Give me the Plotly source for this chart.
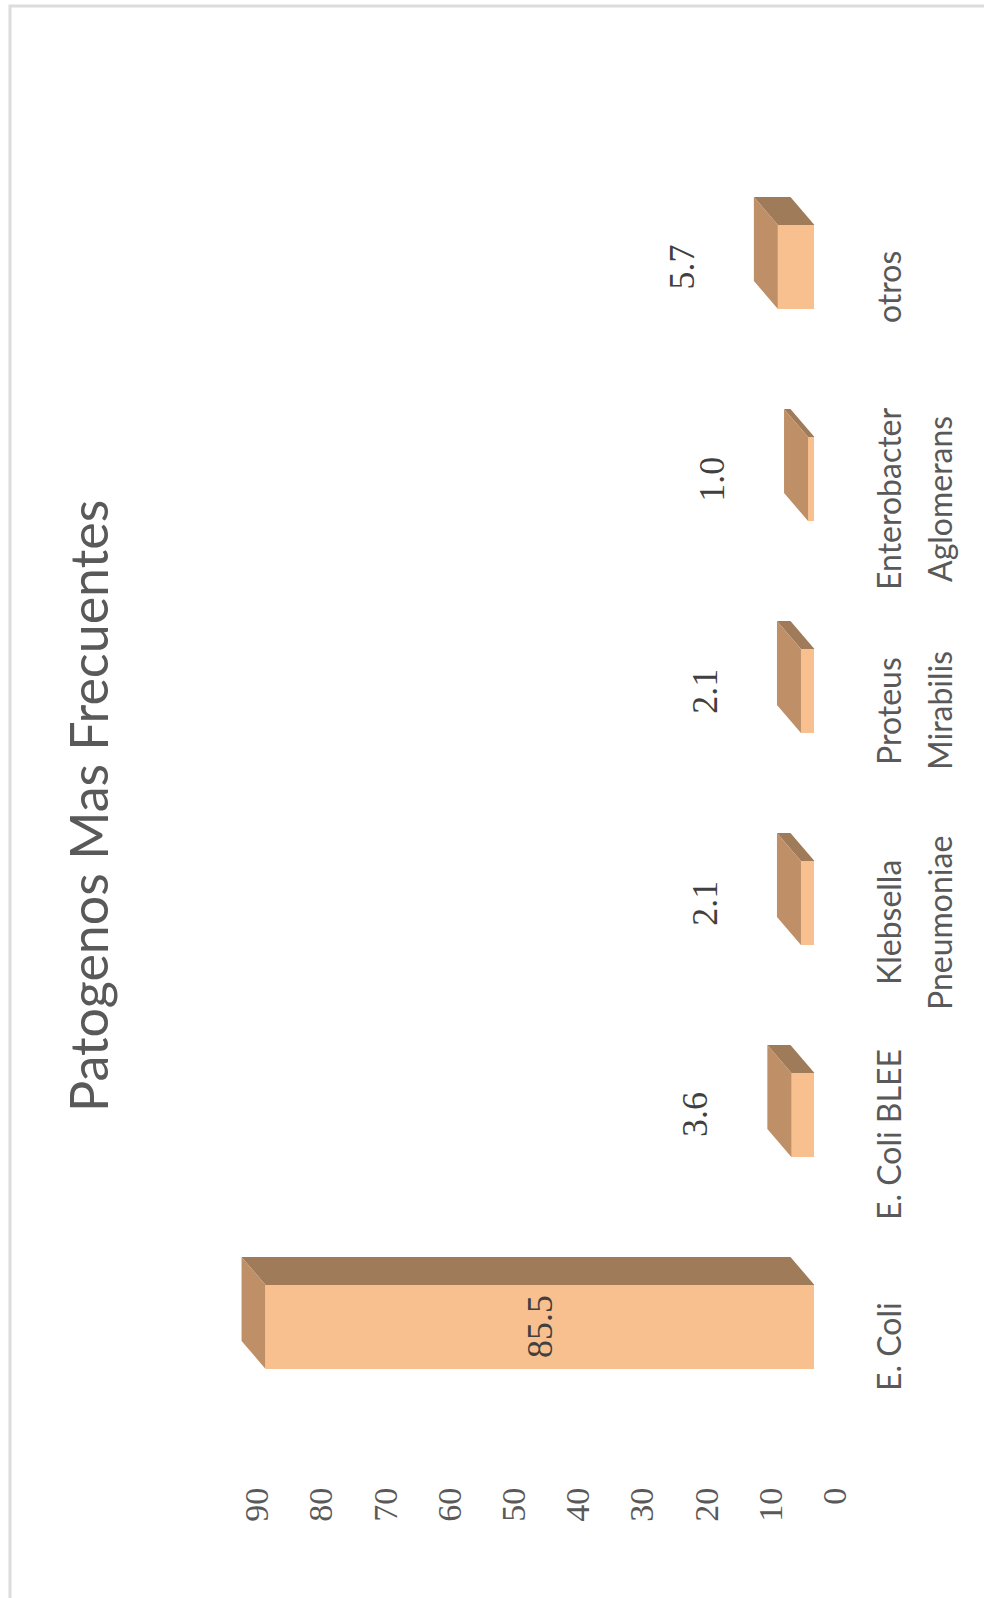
import plotly.graph_objects as go

# ---------------- data ----------------
categories = ["E. Coli", "E. Coli BLEE", "Klebsella Pneumoniae", "Proteus Mirabilis",
              "Enterobacter Aglomerans", "otros"]
category_lines = [["E. Coli"], ["E. Coli BLEE"], ["Klebsella", "Pneumoniae"],
                  ["Proteus", "Mirabilis"], ["Enterobacter", "Aglomerans"], ["otros"]]
values = [85.5, 3.6, 2.1, 2.1, 1.0, 5.7]
tick_values = [0, 10, 20, 30, 40, 50, 60, 70, 80, 90]
title_text = "Patogenos Mas Frecuentes"

# ---------------- style / layout ----------------
W, H = 984, 1598
L, R, T, B = 200, 900, 150, 1480          # plot area in pixels
PX_PER_UNIT = 6.42
ZERO_PX = 835
CAT_PX = 212.0
CAT0_PX = 1347

x_hi = (ZERO_PX - L) / PX_PER_UNIT
x_lo = -(R - ZERO_PX) / PX_PER_UNIT
y_lo = -(B - CAT0_PX) / CAT_PX
y_hi = y_lo + (B - T) / CAT_PX

FRONT = "#F9C08F"
TOP = "#A07B5A"
SIDE = "#BF9068"
TXT = "#595959"

FRONT_OFF = 3.2          # front face shift (value units)
BAR_H = 84 / CAT_PX      # front face thickness (category units)
BAR_SHIFT = 20 / CAT_PX  # front face shifted up from category centre
DX = 24 / PX_PER_UNIT    # depth offset along value axis
DY = 28 / CAT_PX         # depth offset along category axis

ypos = list(range(len(categories)))
centers = [y + BAR_SHIFT for y in ypos]

fig = go.Figure()

# top faces
tx, ty = [], []
for c, v in zip(centers, values):
    yt = c + BAR_H / 2
    tx += [FRONT_OFF, FRONT_OFF + v, FRONT_OFF + v + DX, FRONT_OFF + DX, FRONT_OFF, None]
    ty += [yt, yt, yt + DY, yt + DY, yt, None]
fig.add_trace(go.Scatter(x=tx, y=ty, mode="lines", fill="toself", fillcolor=TOP,
                         line=dict(width=0, color=TOP), hoverinfo="skip", showlegend=False))

# end (side) faces
sx, sy = [], []
for c, v in zip(centers, values):
    yt = c + BAR_H / 2
    yb = c - BAR_H / 2
    e = FRONT_OFF + v
    sx += [e, e, e + DX, e + DX, e, None]
    sy += [yb, yt, yt + DY, yb + DY, yb, None]
fig.add_trace(go.Scatter(x=sx, y=sy, mode="lines", fill="toself", fillcolor=SIDE,
                         line=dict(width=0, color=SIDE), hoverinfo="skip", showlegend=False))

# front faces
fig.add_trace(go.Bar(orientation="h", y=centers, x=values, base=FRONT_OFF, width=BAR_H,
                     marker=dict(color=FRONT, line=dict(width=0)), showlegend=False,
                     hovertext=categories))

annotations = []
# value labels
for c, v in zip(centers, values):
    if v > 20:
        xv = FRONT_OFF + v / 2
    else:
        xv = FRONT_OFF + v + 15
    annotations.append(dict(x=xv, y=c, xref="x", yref="y", text=f"{v:.1f}",
                            showarrow=False, textangle=-90,
                            font=dict(family="Liberation Serif", size=36, color="#404040"),
                            xanchor="center", yanchor="middle"))

# category labels
for y, lines in zip(ypos, category_lines):
    for k, line in enumerate(lines):
        annotations.append(dict(x=0, y=y, xref="x", yref="y", text=line, showarrow=False,
                                textangle=-90, xshift=53 + 51 * k,
                                font=dict(family="Lato", size=32, color=TXT),
                                xanchor="center", yanchor="middle"))

# title
annotations.append(dict(x=(88 - L) / (R - L), y=(B - 806) / (B - T), xref="paper", yref="paper",
                        text=title_text, showarrow=False, textangle=-90,
                        font=dict(family="Lato", size=52, color=TXT),
                        xanchor="center", yanchor="middle"))

shapes = [dict(type="rect", xref="paper", yref="paper", layer="below",
               x0=(10 - L) / (R - L), x1=(W + 20 - L) / (R - L),
               y0=(B - (H + 20)) / (B - T), y1=(B - 6) / (B - T),
               line=dict(color="#DCDCDC", width=3), fillcolor="rgba(0,0,0,0)")]

fig.update_layout(
    width=W, height=H,
    margin=dict(l=L, r=W - R, t=T, b=H - B, pad=0),
    paper_bgcolor="white", plot_bgcolor="white",
    bargap=0, showlegend=False,
    annotations=annotations, shapes=shapes,
    xaxis=dict(range=[x_hi, x_lo], tickvals=tick_values, ticktext=[str(t) for t in tick_values],
               tickangle=-90, showgrid=False, zeroline=False, showline=False, ticks="",
               tickfont=dict(family="Liberation Serif", size=34, color=TXT)),
    yaxis=dict(range=[y_lo, y_hi], showticklabels=False, showgrid=False, zeroline=False,
               showline=False, ticks=""),
)

fig.write_html("out.html")
